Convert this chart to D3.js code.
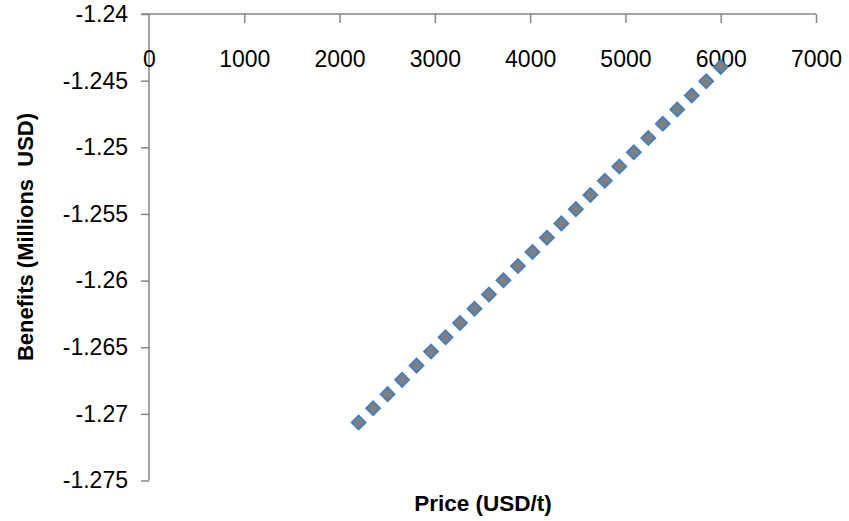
<!DOCTYPE html>
<html><head><meta charset="utf-8">
<script src="https://cdn.jsdelivr.net/npm/d3@7"></script>
<style>body{margin:0;background:#fff}svg{display:block}</style>
</head><body>
<script>
const prices = [2200,2352,2504,2656,2808,2960,3112,3264,3416,3568,3720,3872,4024,4176,4328,4480,4632,4784,4936,5088,5240,5392,5544,5696,5848,6000];
const benefits = [-1.27065,-1.26958,-1.26852,-1.26745,-1.26638,-1.26532,-1.26425,-1.26318,-1.26211,-1.26105,-1.25998,-1.25891,-1.25785,-1.25678,-1.25571,-1.25464,-1.25358,-1.25251,-1.25144,-1.25037,-1.24931,-1.24824,-1.24717,-1.24611,-1.24504,-1.24397];
const xTicks = [0,1000,2000,3000,4000,5000,6000,7000];
const yTicks = [-1.24,-1.245,-1.25,-1.255,-1.26,-1.265,-1.27,-1.275];
const xTitle = "Price (USD/t)";
const yTitle = "Benefits (Millions  USD)";

const W = 849, H = 521;
const font = "'Liberation Sans', Arial, sans-serif";
const axisColor = "#868686";
const svg = d3.select("body").append("svg").attr("width", W).attr("height", H);

const x = d3.scaleLinear().domain([0, 7000]).range([149, 816]);
const y = d3.scaleLinear().domain([-1.24, -1.275]).range([14, 480.5]);

// Y axis (left, outward ticks)
const yAxis = svg.append("g").attr("transform", `translate(${x(0)},0)`)
  .call(d3.axisLeft(y).tickValues(yTicks).tickSize(8).tickPadding(13).tickFormat(d => String(+d.toFixed(3))));
yAxis.select(".domain").attr("stroke", axisColor).attr("stroke-width", 1.5).attr("d", `M0,${y(-1.24)}V${y(-1.275)}`);
yAxis.selectAll(".tick line").attr("stroke", axisColor).attr("stroke-width", 1.5);
yAxis.selectAll(".tick text").attr("fill", "#000").style("font-family", font).style("font-size", "23px");

// X axis at top (ticks pointing down)
const xAxis = svg.append("g").attr("transform", `translate(0,${y(-1.24)})`)
  .call(d3.axisBottom(x).tickValues(xTicks).tickSize(9).tickFormat(d3.format("d")));
xAxis.select(".domain").attr("stroke", axisColor).attr("stroke-width", 1.5).attr("d", `M${x(0)-8},0H${x(7000)}`);
xAxis.selectAll(".tick line").attr("stroke", axisColor).attr("stroke-width", 1.5);
xAxis.selectAll(".tick text").attr("fill", "#000").attr("y", 53).attr("dy", 0)
  .style("font-family", font).style("font-size", "23px");
xAxis.selectAll(".tick").filter(d => d === 0).select("line").remove();

// Markers (diamonds)
const sym = d3.symbol().type(d3.symbolDiamond2).size(120);
svg.append("g").selectAll("path").data(prices).join("path")
  .attr("d", sym)
  .attr("transform", (d, i) => `translate(${x(d)},${y(benefits[i])})`)
  .attr("fill", "#7f7f7f").attr("stroke", "#4a7ebb").attr("stroke-width", 2);

// Titles
svg.append("text").attr("x", 483).attr("y", 511).attr("text-anchor", "middle")
  .style("font-family", font).style("font-weight", "bold").style("font-size", "22.5px")
  .text(xTitle);
svg.append("text").attr("transform", "translate(33,237) rotate(-90)").attr("text-anchor", "middle")
  .attr("xml:space", "preserve").style("white-space", "pre")
  .style("font-family", font).style("font-weight", "bold").style("font-size", "22px")
  .text(yTitle);
</script>
</body></html>
